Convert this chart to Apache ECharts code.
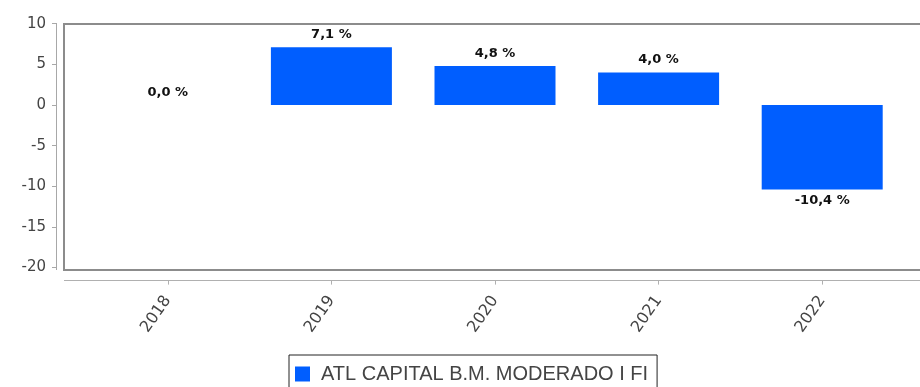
<!DOCTYPE html>
<html>
<head>
<meta charset="utf-8">
<script src="https://cdn.jsdelivr.net/npm/echarts@6/dist/echarts.min.js"></script>
<style>
  html, body { margin: 0; padding: 0; background: #fff; }
  #chart { width: 920px; height: 387px; }
</style>
</head>
<body>
<div id="chart"></div>
<script>
// Annual returns of the fund, in percent
const years = ['2018', '2019', '2020', '2021', '2022'];
const returns = [0.0, 7.1, 4.8, 4.0, -10.4];
const seriesName = 'ATL CAPITAL B.M. MODERADO I FI';
const yTicks = { min: -20, max: 10, interval: 5 };

const fmt = v => v.toFixed(1).replace('.', ',') + ' %';

const chart = echarts.init(document.getElementById('chart'));
chart.setOption({
  animation: false,
  grid: { left: 86, right: 16, top: 23.7, bottom: 119.4, containLabel: false },
  graphic: [
    // plot frame
    { type: 'rect', shape: { x: 64, y: 24, width: 870, height: 246 },
      style: { fill: 'none', stroke: '#8c8c8c', lineWidth: 2 }, z: 0 },
    // value axis rule, detached to the left of the frame
    { type: 'line', shape: { x1: 56.5, y1: 23, x2: 56.5, y2: 270 },
      style: { stroke: '#a8a8a8', lineWidth: 1 }, z: 0 },
    // long category baseline under the frame
    { type: 'line', shape: { x1: 64, y1: 280.5, x2: 920, y2: 280.5 },
      style: { stroke: '#b0b0b0', lineWidth: 1 }, z: 0 }
  ],
  xAxis: {
    type: 'category',
    data: years,
    offset: 13,
    axisLine: { show: false, onZero: false },
    axisTick: { show: true, alignWithLabel: true, length: 4, lineStyle: { color: '#b0b0b0' } },
    axisLabel: { rotate: 55, margin: 17, fontSize: 16, color: '#444',
                 fontFamily: 'DejaVu Sans, sans-serif' },
    splitLine: { show: false }
  },
  yAxis: {
    type: 'value',
    min: yTicks.min, max: yTicks.max, interval: yTicks.interval,
    offset: 30,
    axisLine: { show: false },
    axisTick: { show: true, length: 4, lineStyle: { color: '#a8a8a8' } },
    axisLabel: { margin: 10, fontSize: 15, color: '#444',
                 fontFamily: 'DejaVu Sans, sans-serif' },
    splitLine: { show: false }
  },
  legend: {
    left: 289, top: 355,
    padding: [9, 9, 12, 6],
    itemGap: 10,
    itemWidth: 15, itemHeight: 15,
    itemStyle: { borderWidth: 0 },
    borderColor: '#222', borderWidth: 1,
    icon: 'rect',
    textStyle: { fontSize: 20, color: '#444', padding: [0, 0, 0, 6],
                 fontFamily: 'Liberation Sans, Arial, sans-serif' },
    data: [seriesName]
  },
  series: [{
    name: seriesName,
    type: 'bar',
    barWidth: 121,
    data: returns.map(v => ({
      value: v,
      label: { position: v < 0 ? 'bottom' : 'top', distance: v < 0 ? 5 : 6 }
    })),
    itemStyle: { color: '#005eff' },
    label: {
      show: true,
      formatter: p => fmt(p.value),
      fontSize: 13, fontWeight: 'bold', color: '#111',
      fontFamily: 'DejaVu Sans, sans-serif'
    }
  }]
});
</script>
</body>
</html>
